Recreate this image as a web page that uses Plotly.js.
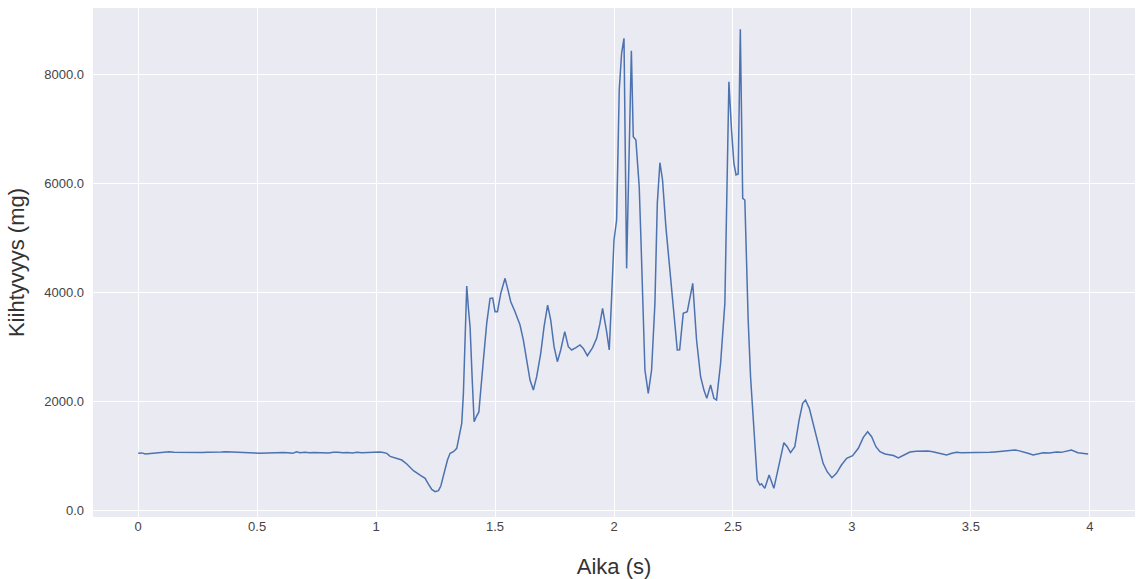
<!DOCTYPE html>
<html>
<head>
<meta charset="utf-8">
<script src="https://cdn.plot.ly/plotly-3.0.1.min.js"></script>
<style>html,body{margin:0;padding:0;background:#fff;}#chart{width:1136px;height:579px;}</style>
</head>
<body>
<div id="chart"></div>
<script>
const timeS = [0.00,0.015,0.03,0.045,0.06,0.075,0.09,0.11,0.13,0.15,0.17,0.19,0.21,0.23,0.25,0.27,0.29,0.31,0.33,0.35,0.37,0.39,0.41,0.43,0.45,0.47,0.49,0.51,0.53,0.55,0.57,0.59,0.61,0.63,0.65,0.665,0.68,0.70,0.72,0.74,0.76,0.78,0.80,0.82,0.84,0.86,0.88,0.90,0.92,0.94,0.96,0.98,1.00,1.015,1.03,1.045,
1.059,1.073,1.087,1.108,1.129,1.157,1.185,1.206,1.22,1.234,1.248,1.262,1.272,1.286,1.3,1.311,1.325,1.339,1.35,1.36,1.367,1.374,1.381,1.388,1.395,1.404,1.412,1.422,1.432,1.451,1.465,1.479,1.49,1.5,1.51,1.524,1.542,1.556,1.566,1.584,1.605,1.619,1.633,1.647,1.661,1.675,1.692,1.706,1.721,1.734,1.748,1.762,1.776,1.793,1.808,1.822,1.84,1.857,1.871,1.888,1.91,1.927,1.94,1.952,1.969,1.98,1.99,
2.0,2.011,2.022,2.032,2.042,2.053,2.064,2.073,2.081,2.092,2.1,2.106,2.113,2.12,2.13,2.144,2.158,2.172,2.182,2.193,2.204,2.218,2.235,2.252,2.266,2.276,2.291,2.308,2.331,2.347,2.364,2.378,2.39,2.406,2.42,2.431,2.448,2.466,2.473,2.483,2.494,2.504,2.513,2.522,2.531,2.541,2.55,2.564,2.574,2.588,2.602,2.613,2.62,2.634,2.652,2.672,2.695,2.714,2.728,2.742,2.76,2.778,2.793,2.805,2.821,2.837,2.858,2.879,2.896,2.916,2.935,2.956,2.978,
3.003,3.027,3.048,3.066,3.083,3.101,3.118,3.139,3.16,3.175,3.195,3.216,3.244,3.27,3.3,3.32,3.34,3.37,3.398,3.42,3.44,3.46,3.48,3.51,3.53,3.55,3.58,3.60,3.62,3.65,3.685,3.70,3.72,3.74,3.762,3.78,3.804,3.83,3.86,3.88,3.895,3.923,3.95,3.975,3.993];
const accelMg = [1040,1048,1030,1035,1050,1045,1055,1062,1068,1060,1058,1063,1055,1058,1052,1055,1062,1060,1066,1063,1070,1068,1066,1062,1058,1055,1048,1040,1045,1048,1042,1050,1055,1050,1040,1070,1052,1060,1050,1056,1052,1060,1046,1058,1062,1050,1056,1048,1058,1050,1052,1062,1068,1065,1055,1040,
985,965,948,917,844,721,642,581,477,379,336,355,440,673,917,1040,1070,1132,1345,1590,2141,3200,4110,3700,3364,2400,1620,1720,1800,2752,3425,3884,3890,3639,3639,3976,4251,4006,3822,3639,3394,3119,2752,2385,2202,2446,2875,3364,3761,3486,2997,2722,2936,3272,2997,2936,2980,3028,2966,2832,2980,3150,3400,3700,3272,2936,3900,
4954,5321,7706,8379,8654,4434,6545,8428,6850,6789,6300,5932,5000,4097,2569,2141,2569,3792,5627,6373,6055,5199,4343,3609,2936,2940,3609,3639,4159,3119,2446,2200,2049,2294,2049,2018,2691,3792,5321,7859,6972,6361,6147,6165,8820,5719,5688,3486,2446,1529,550,459,480,398,642,398,826,1235,1162,1052,1162,1651,1957,2018,1866,1590,1223,857,703,593,673,826,948,
996,1132,1334,1437,1345,1162,1070,1028,1015,1000,955,1009,1065,1080,1088,1082,1070,1040,1009,1040,1058,1050,1050,1058,1048,1052,1058,1065,1075,1088,1100,1090,1070,1040,1009,1030,1052,1045,1064,1058,1070,1101,1052,1040,1028];
const xTickVals = [0,0.5,1,1.5,2,2.5,3,3.5,4];
const xTickText = ["0","0.5","1","1.5","2","2.5","3","3.5","4"];
const yTickVals = [0,2000,4000,6000,8000];

const font = "Liberation Sans, Arial, Helvetica, sans-serif";
Plotly.newPlot('chart', [{
  x: timeS, y: accelMg, type: 'scatter', mode: 'lines',
  line: {color: '#4C72B0', width: 1.5}
}], {
  width: 1136, height: 579,
  margin: {l: 93, r: 1, t: 8, b: 62},
  paper_bgcolor: '#ffffff', plot_bgcolor: '#EAEAF2',
  showlegend: false,
  font: {family: font, color: '#444444', size: 13},
  xaxis: {
    range: [-0.19, 4.19], tickvals: xTickVals, ticktext: xTickText,
    showgrid: true, gridcolor: '#ffffff', gridwidth: 1, zeroline: false, showline: false,
    ticks: '', tickfont: {family: font, size: 13, color: '#444444'},
    title: {text: 'Aika (s)', font: {family: font, size: 22, color: '#333333'}, standoff: 25}
  },
  yaxis: {
    range: [-128, 9211], tickvals: yTickVals, tickformat: '.1f',
    showgrid: true, gridcolor: '#ffffff', gridwidth: 1, zeroline: false, showline: false,
    ticks: '', tickfont: {family: font, size: 13, color: '#444444'}, ticklabelstandoff: 8,
    title: {text: 'Kiihtyvyys (mg)', font: {family: font, size: 22, color: '#333333'}, standoff: 13}
  }
}, {displayModeBar: false, staticPlot: true});
</script>
</body>
</html>
